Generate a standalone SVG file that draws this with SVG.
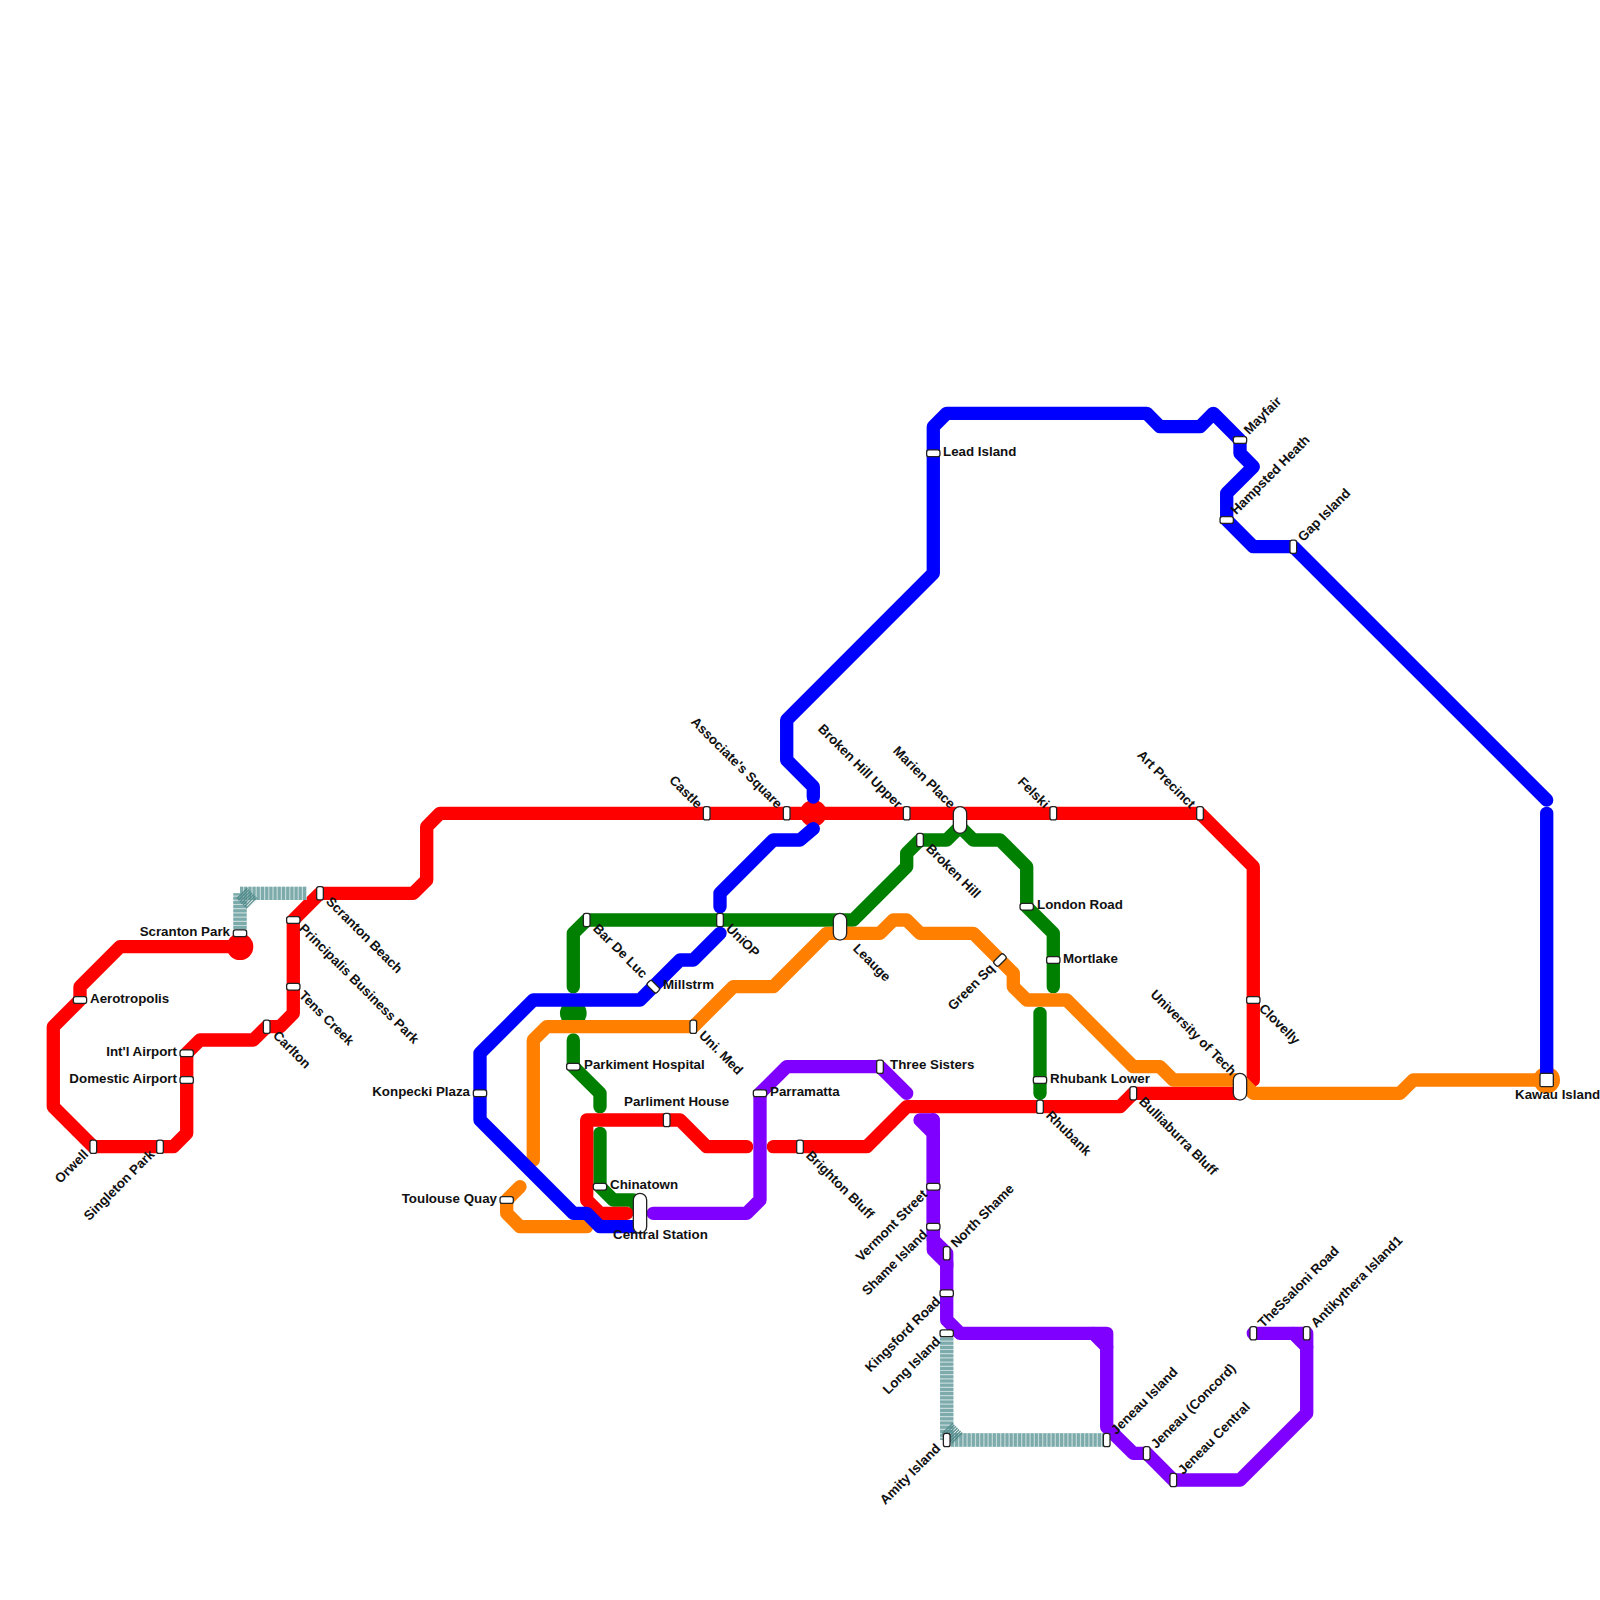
<svg xmlns="http://www.w3.org/2000/svg" width="1600" height="1600" viewBox="0 0 1600 1600">
<style>
.l{fill:none;stroke-width:13.33;stroke-linecap:round;stroke-linejoin:round}
.r{stroke:#ff0000}.b{stroke:#0000ff}.g{stroke:#008000}.o{stroke:#ff8000}.p{stroke:#8000ff}
.tb{fill:none;stroke:#c4d9d9;stroke-width:13.33}
.td{fill:none;stroke:#7dabab;stroke-width:13.33;stroke-dasharray:3 1.2}
.tc{fill:none;stroke:#4a8585;stroke-width:15;stroke-dasharray:1.5 .7;opacity:.85}
.s{fill:#fff;stroke:#222;stroke-width:1.3}
text{font-family:"Liberation Sans",Arial,sans-serif;font-size:13.33px;font-weight:bold;fill:#111;dominant-baseline:central}
.e{text-anchor:end}
</style>
<defs>
<rect id="h" class="s" x="-6.67" y="-3.33" width="13.33" height="6.67" rx="2.2"/>
<rect id="v" class="s" x="-3.33" y="-6.67" width="6.67" height="13.33" rx="2.2"/>
<rect id="big" class="s" x="-6.67" y="-20" width="13.33" height="40" rx="6.67"/>
<rect id="mid" class="s" x="-6.67" y="-13.33" width="13.33" height="26.67" rx="6.67"/>
</defs>
<g id="connectors">
<circle cx="573.3" cy="1013.3" r="13.33" fill="#008000"/>
<path class="l g" d="M573.3 986.7V933.3L586.7 920H853.3L906.7 866.7V853.3L920 840H946.7L960 826.7L973.3 840H1000L1026.7 866.7V906.7L1053.3 933.3V986.7"/>
<path class="l g" d="M573.3 1040V1066.7L600 1093.3V1106.7"/>
<path class="l g" d="M600 1133.3V1186.7L613.3 1200H633.3L640 1213.3"/>
<path class="l g" d="M1040 1013.3V1093.3"/>
<circle cx="240" cy="946.7" r="13.33" fill="#ff0000"/>
<circle cx="813.3" cy="813.3" r="13.33" fill="#ff0000"/>
<path class="l r" d="M240 946.7H120L80 986.7V1000L53.3 1026.7V1106.7L93.3 1146.7H173.3L186.7 1133.3V1053.3L200 1040H253.3L266.7 1026.7H280L293.3 1013.3V920L320 893.3H413.3L426.7 880V826.7L440 813.3H1200L1253.3 866.7V1080"/>
<path class="l r" d="M1240 1093.3H1133.3L1120 1106.7H906.7L866.7 1146.7H773.3"/>
<path class="l r" d="M746.7 1146.7H706.7L680 1120H586.7V1200L600 1213.3H626.7"/>
<circle cx="1546.7" cy="1080" r="13.33" fill="#ff8000"/>
<path class="l o" d="M1546.7 1080H1413.3L1400 1093.3H1253.3L1240 1080H1173.3L1160 1066.7H1133.3L1066.7 1000H1026.7L1013.3 986.7V973.3L973.3 933.3H920L906.7 920H893.3L880 933.3H826.7L773.3 986.7H733.3L693.3 1026.7H546.7L533.3 1040V1160"/>
<path class="l o" d="M520 1186.7L506.7 1200V1213.3L520 1226.7H586.7"/>
<path class="l b" d="M1546.7 813.3V1073"/>
<path class="l b" d="M1546.7 800L1293.3 546.7H1253.3L1226.7 520V493.3L1253.3 466.7L1240 453.3V440L1213.3 413.3L1200 426.7H1160L1146.7 413.3H946.7L933.3 426.7V573.3L786.7 720V760L813.3 786.7V797"/>
<path class="l b" d="M813.3 828.7L800 840H773.3L720 893.3V906.7"/>
<path class="l b" d="M720 933.3L693.3 960H680L640 1000H533.3L480 1053.3V1120L573.3 1213.3H586.7L600 1226.7H640"/>
<path class="l p" d="M653.3 1213.3H746.7L760 1200V1093.3L786.7 1066.7H880L906.7 1093.3"/>
<path class="l p" d="M933.3 1120H920L933.3 1133.3V1250L946.7 1263.3V1320L960 1333.3H1106.7V1427L1133.3 1453.3H1146.7L1173.3 1480H1240L1306.7 1413.3V1346.7L1293.3 1333.3H1253.3"/>
<path class="l p" d="M933.3 1120V1240L946.7 1253.3V1266.7"/>
<path class="l p" d="M1093.3 1333.3L1106.7 1346.7M1293.3 1333.3H1306.7V1346.7"/>
<path class="tb" d="M240 933.3V893.3M240 893.3H306.7"/>
<path class="td" d="M240 933.3V893.3M240 893.3H306.7"/>
<path class="tc" d="M241.5 893L252.5 904"/>
<path class="tb" d="M946.7 1333.3V1440M946.7 1440H1106.7"/>
<path class="td" d="M946.7 1333.3V1440M946.7 1440H1106.7"/>
<path class="tc" d="M947 1428L958 1439"/>
</g>
<g id="st-scranton-park"><use href="#h" x="240" y="933.3"/><text class="e" x="230" y="931">Scranton Park</text></g>
<g id="st-aerotropolis"><use href="#h" x="80" y="1000"/><text x="90" y="998">Aerotropolis</text></g>
<g id="st-intl-airport"><use href="#h" x="186.7" y="1053.3"/><text class="e" x="177" y="1051">Int'l Airport</text></g>
<g id="st-domestic-airport"><use href="#h" x="186.7" y="1080"/><text class="e" x="177" y="1078">Domestic Airport</text></g>
<g id="st-orwell"><use href="#v" x="93.3" y="1146.7"/><text class="e" x="86" y="1152" transform="rotate(-45 86 1152)">Orwell</text></g>
<g id="st-singleton-park"><use href="#v" x="160" y="1146.7"/><text class="e" x="152" y="1152" transform="rotate(-45 152 1152)">Singleton Park</text></g>
<g id="st-carlton"><use href="#v" x="266.7" y="1026.7"/><text x="275.5" y="1033" transform="rotate(45 275.5 1033)">Carlton</text></g>
<g id="st-tens-creek"><use href="#h" x="293.3" y="986.7"/><text x="301.5" y="993" transform="rotate(45 301.5 993)">Tens Creek</text></g>
<g id="st-principalis"><use href="#h" x="293.3" y="920"/><text x="301.5" y="926" transform="rotate(45 301.5 926)">Principalis Business Park</text></g>
<g id="st-scranton-beach"><use href="#v" x="320" y="893.3"/><text x="328.5" y="899" transform="rotate(45 328.5 899)">Scranton Beach</text></g>
<g id="st-konpecki"><use href="#h" x="480" y="1093.3"/><text class="e" x="470" y="1091">Konpecki Plaza</text></g>
<g id="st-toulouse"><use href="#h" x="506.7" y="1200"/><text class="e" x="497" y="1198">Toulouse Quay</text></g>
<g id="st-bar-de-luc"><use href="#v" x="586.7" y="920"/><text x="595.5" y="926" transform="rotate(45 595.5 926)">Bar De Luc</text></g>
<g id="st-millstrm"><use href="#h" transform="translate(653.3 986.7) rotate(45)"/><text x="663" y="984">Millstrm</text></g>
<g id="st-parkiment"><use href="#h" x="573.3" y="1066.7"/><text x="584" y="1064">Parkiment Hospital</text></g>
<g id="st-uni-med"><use href="#v" x="693.3" y="1026.7"/><text x="701.5" y="1033" transform="rotate(45 701.5 1033)">Uni. Med</text></g>
<g id="st-uniop"><use href="#v" x="720" y="920"/><text x="728.5" y="926" transform="rotate(45 728.5 926)">UniOP</text></g>
<g id="st-leauge"><use href="#mid" x="840" y="926.7"/><text x="855.5" y="946" transform="rotate(45 855.5 946)">Leauge</text></g>
<g id="st-parramatta"><use href="#h" x="760" y="1093.3"/><text x="770" y="1091">Parramatta</text></g>
<g id="st-parliment"><use href="#v" x="666.7" y="1120"/><text x="624" y="1101">Parliment House</text></g>
<g id="st-chinatown"><use href="#h" x="600" y="1186.7"/><text x="610" y="1184">Chinatown</text></g>
<g id="st-central"><use href="#big" x="640" y="1213.3"/><text x="613" y="1234">Central Station</text></g>
<g id="st-brighton"><use href="#v" x="800" y="1146.7"/><text x="808.5" y="1153" transform="rotate(45 808.5 1153)">Brighton Bluff</text></g>
<g id="st-three-sisters"><use href="#v" x="880" y="1066.7"/><text x="890" y="1064">Three Sisters</text></g>
<g id="st-castle"><use href="#v" x="706.7" y="813.3"/><text class="e" x="700" y="806" transform="rotate(45 700 806)">Castle</text></g>
<g id="st-associates"><use href="#v" x="786.7" y="813.3"/><text class="e" x="780" y="806" transform="rotate(45 780 806)">Associate's Square</text></g>
<g id="st-broken-hill-upper"><use href="#v" x="906.7" y="813.3"/><text class="e" x="900" y="806" transform="rotate(45 900 806)">Broken Hill Upper</text></g>
<g id="st-marien"><use href="#mid" x="960" y="820"/><text class="e" x="953" y="806" transform="rotate(45 953 806)">Marien Place</text></g>
<g id="st-felski"><use href="#v" x="1053.3" y="813.3"/><text class="e" x="1047" y="806" transform="rotate(45 1047 806)">Felski</text></g>
<g id="st-art-precinct"><use href="#v" x="1200" y="813.3"/><text class="e" x="1193" y="806" transform="rotate(45 1193 806)">Art Precinct</text></g>
<g id="st-uni-tech"><use href="#mid" x="1240" y="1086.7"/><text class="e" x="1234" y="1073" transform="rotate(45 1234 1073)">University of Tech</text></g>
<g id="st-broken-hill"><use href="#v" x="920" y="840"/><text x="928.5" y="846" transform="rotate(45 928.5 846)">Broken Hill</text></g>
<g id="st-london"><use href="#h" x="1026.7" y="906.7"/><text x="1037" y="904">London Road</text></g>
<g id="st-mortlake"><use href="#h" x="1053.3" y="960"/><text x="1063" y="958">Mortlake</text></g>
<g id="st-green-sq"><use href="#h" transform="translate(1000 960) rotate(-45)"/><text class="e" x="992" y="966" transform="rotate(-45 992 966)">Green Sq</text></g>
<g id="st-rhubank-lower"><use href="#h" x="1040" y="1080"/><text x="1050" y="1078">Rhubank Lower</text></g>
<g id="st-rhubank"><use href="#v" x="1040" y="1106.7"/><text x="1048.5" y="1113" transform="rotate(45 1048.5 1113)">Rhubank</text></g>
<g id="st-bulliaburra"><use href="#v" x="1133.3" y="1093.3"/><text x="1141.5" y="1099" transform="rotate(45 1141.5 1099)">Bulliaburra Bluff</text></g>
<g id="st-clovelly"><use href="#h" x="1253.3" y="1000"/><text x="1261.5" y="1006" transform="rotate(45 1261.5 1006)">Clovelly</text></g>
<g id="st-kawau"><rect class="s" x="1540" y="1073.3" width="13.33" height="13.33" rx="1.5"/><text x="1515" y="1094">Kawau Island</text></g>
<g id="st-lead-island"><use href="#h" x="933.3" y="453.3"/><text x="943" y="451">Lead Island</text></g>
<g id="st-mayfair"><use href="#h" x="1240" y="440"/><text x="1246" y="432" transform="rotate(-45 1246 432)">Mayfair</text></g>
<g id="st-hampsted"><use href="#h" x="1226.7" y="520"/><text x="1233" y="512" transform="rotate(-45 1233 512)">Hampsted Heath</text></g>
<g id="st-gap-island"><use href="#v" x="1293.3" y="546.7"/><text x="1300" y="539" transform="rotate(-45 1300 539)">Gap Island</text></g>
<g id="st-vermont"><use href="#h" x="933.3" y="1186.7"/><text class="e" x="925" y="1192" transform="rotate(-45 925 1192)">Vermont Street</text></g>
<g id="st-shame"><use href="#h" x="933.3" y="1226.7"/><text class="e" x="925" y="1232" transform="rotate(-45 925 1232)">Shame Island</text></g>
<g id="st-north-shame"><use href="#v" x="946.7" y="1253.3"/><text x="953" y="1245" transform="rotate(-45 953 1245)">North Shame</text></g>
<g id="st-kingsford"><use href="#h" x="946.7" y="1293.3"/><text class="e" x="938" y="1299" transform="rotate(-45 938 1299)">Kingsford Road</text></g>
<g id="st-long-island"><use href="#h" x="946.7" y="1333.3"/><text class="e" x="938" y="1339" transform="rotate(-45 938 1339)">Long Island</text></g>
<g id="st-amity"><use href="#v" x="946.7" y="1440"/><text class="e" x="938" y="1446" transform="rotate(-45 938 1446)">Amity Island</text></g>
<g id="st-jeneau-island"><use href="#v" x="1106.7" y="1440"/><text x="1113" y="1432" transform="rotate(-45 1113 1432)">Jeneau Island</text></g>
<g id="st-jeneau-concord"><use href="#v" x="1146.7" y="1453.3"/><text x="1153" y="1446" transform="rotate(-45 1153 1446)">Jeneau (Concord)</text></g>
<g id="st-jeneau-central"><use href="#v" x="1173.3" y="1480"/><text x="1180" y="1472" transform="rotate(-45 1180 1472)">Jeneau Central</text></g>
<g id="st-thessaloni"><use href="#v" x="1253.3" y="1333.3"/><text x="1260" y="1325" transform="rotate(-45 1260 1325)">TheSsaloni Road</text></g>
<g id="st-antikythera"><use href="#v" x="1306.7" y="1333.3"/><text x="1313" y="1325" transform="rotate(-45 1313 1325)">Antikythera Island1</text></g>
</svg>
